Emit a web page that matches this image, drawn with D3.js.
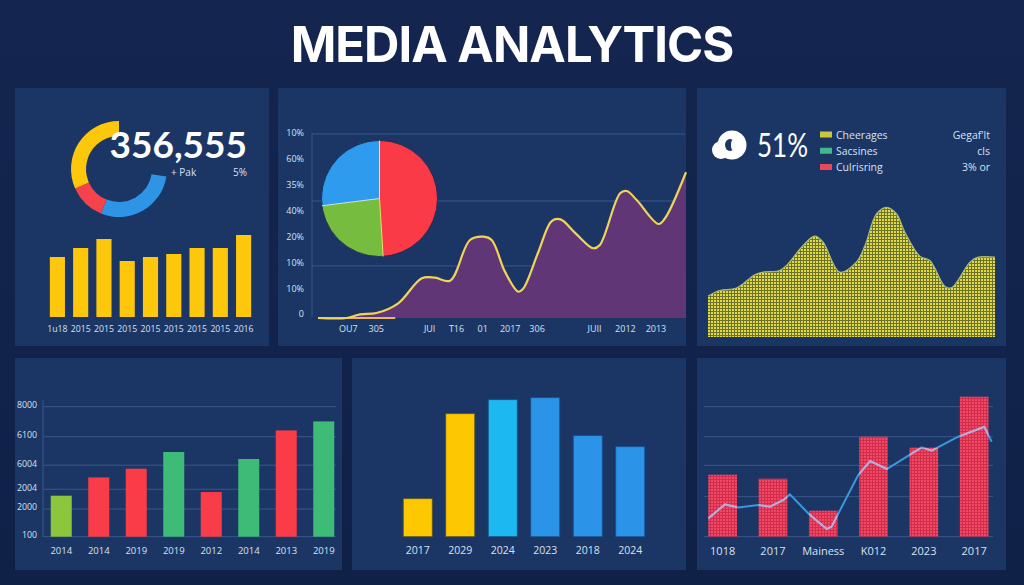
<!DOCTYPE html>
<html>
<head>
<meta charset="utf-8">
<style>
  html, body { margin: 0; padding: 0; background: #12244d; overflow: hidden; }
  text { font-family: "Open Sans", sans-serif; }
  .tick text { font-family: "Open Sans", sans-serif; }
</style>
</head>
<body>
<div id="svg"></div>
<script src="https://cdn.jsdelivr.net/npm/d3@7"></script>
<script>
// top left: donut + yearly bars
const donutValues = [103, 44, 114]
const donutColors = ['#2e95e6', '#f6434b', '#fdc70c']
const yearlyLabels = ['1u18', '2015', '2015 ', '2015  ', '2015   ', '2015    ', '2015     ', '2015      ', '2016']
const yearlyValues = [60, 69, 78, 56, 60, 63, 69, 69, 82]

// top middle: pie + growth area
const pieValues = [49, 24, 27]
const pieColors = ['#fa3b47', '#76bd3f', '#2f9bee']
const pieSeparators = ['#f0dc6a', '#cfe6e0', '#d8dfe8']
const growthT = [0, 7.8, 11.4, 15.9, 21.8, 28.2, 31.8, 35.9, 41.3, 45, 47.2, 50.8, 54.4, 55.8, 59.9, 63.5, 65.9, 70, 74.8, 76.6, 82.1, 83.9, 86.6, 92.5, 94.3, 100]
const growthValues = [0, 0, 2, 2.7, 8, 21.6, 21.9, 20.3, 42.4, 44.2, 42.4, 25.2, 14.3, 16.1, 36, 52.7, 53.6, 46, 37.9, 39.7, 67.8, 69, 64.1, 51.1, 54.2, 79.2]
const growthYLabels = ['10%', '60%', '35%', '40%', '20%', '10%', '10%', '0']
const growthXTicks = [8.1, 15.7, 30.2, 37.5, 44.6, 52.1, 59.4, 75, 83.4, 91.7]
const growthXLabels = ['OU7', '305', 'JUI', 'T16', '01', '2017', '306', 'JUII', '2012', '2013']
const growthGrid = [100, 63.6, 28.3]

// top right: share + ridge area
const legendLabels = ['Cheerages', 'Sacsines', 'Culrisring']
const legendColors = ['#c9c63c', '#45b58c', '#e9475a']
const legendNotes = ["Gegaf'lt", 'cls', '3% or']
const ridgeT = [0, 4.1, 9.9, 16.3, 19.2, 25, 27.9, 32.6, 37.2, 40.1, 45.9, 51.7, 54.7, 58.7, 62.2, 65.7, 68.6, 73.8, 77.3, 82.6, 84.9, 91.3, 94.2, 100]
const ridgeValues = [30.8, 35, 36.8, 46.8, 48.8, 50, 55, 67.5, 75.8, 71.3, 48.8, 56.3, 68.8, 92.5, 97.5, 92.5, 78.8, 60.8, 57.5, 38, 37, 56.3, 60, 60]

// bottom left: coloured bars
const revenueLabels = ['2014', '2014 ', '2019', '2019 ', '2012', '2014  ', '2013', '2019  ']
const revenueValues = [2523, 3650, 4185, 5212, 2750, 4781, 6542, 7095]
const revenueColors = ['#8cc63c', '#f93c47', '#f93c47', '#3dbb77', '#f93c47', '#3dbb77', '#f93c47', '#3dbb77']
const revenueTicks = [8000, 6150, 4400, 2920, 1700, 0]
const revenueTickLabels = ['8000', '6100', '6004', '2004', '2000', '100']

// bottom middle: yellow and blue bars
const audienceLabels = ['2017', '2029', '2024', '2023', '2018', '2024 ']
const audienceValues = [38, 123, 137, 139, 101, 90]
const audienceColors = ['#fdc800', '#fdc800', '#1cb8f2', '#2b94e8', '#2b94e8', '#2b94e8']
const audienceEdges = ['#5c5526', '#5c5526', '#17507f', '#17508f', '#17508f', '#17508f']

// bottom right: dotted bars + line
const salesLabels = ['1018', '2017', 'Mainess', 'K012', '2023', '2017 ']
const salesValues = [62, 58, 26, 100, 89, 140]
const salesGrid = [130, 100, 71.4, 40, 0]
const trendT = [0, 5.9, 10.6, 17.6, 21.8, 26.5, 28.8, 35.3, 41.8, 43.5, 52.9, 57.1, 63, 75.3, 78.8, 88.2, 97.4, 100]
const trendValues = [18.3, 32.3, 29.3, 31.7, 30, 36.7, 42.3, 23.3, 7.7, 10, 61.7, 75.7, 67.7, 89.3, 86, 100, 110, 95]

const width = 1024
const height = 585
const labelColor = '#d7e1f0'
const gridColor = '#37588c'
const panelColor = '#1b3664'

const svg = d3.select('#svg')
  .append('svg')
  .attr('width', width)
  .attr('height', height)
  .style('display', 'block')

const defs = svg.append('defs')

const bgGradient = defs.append('linearGradient')
  .attr('id', 'bg')
  .attr('x1', 0).attr('x2', 0).attr('y1', 0).attr('y2', 1)
bgGradient.append('stop').attr('offset', 0).attr('stop-color', '#14264f')
bgGradient.append('stop').attr('offset', 1).attr('stop-color', '#0f2147')

const dotPattern = (id, back, dot) => {
  const p = defs.append('pattern')
    .attr('id', id)
    .attr('patternUnits', 'userSpaceOnUse')
    .attr('width', 3)
    .attr('height', 3)
  p.append('rect').attr('width', 3).attr('height', 3).attr('fill', back)
  p.append('rect').attr('width', 2).attr('height', 2).attr('fill', dot)
}
dotPattern('yellowDots', '#6d712e', '#e2dc3e')
dotPattern('redDots', '#d42d4c', '#ee4a66')

svg.append('rect')
  .attr('width', width)
  .attr('height', height)
  .attr('fill', 'url(#bg)')

svg.append('text')
  .attr('x', 512)
  .attr('y', 62)
  .attr('text-anchor', 'middle')
  .attr('fill', '#fff')
  .style('font-family', 'Inter')
  .style('font-weight', 700)
  .style('font-size', '49px')
  .style('letter-spacing', '-1px')
  .text('MEDIA ANALYTICS')

const panels = [[15, 88, 254, 258], [278, 88, 408, 258], [697, 88, 309, 258], [15, 358, 327, 212], [352, 358, 334, 212], [697, 358, 309, 212]]
svg.selectAll('.panel')
  .data(panels)
  .enter()
    .append('rect')
    .attr('class', 'panel')
    .attr('x', d => d[0])
    .attr('y', d => d[1])
    .attr('width', d => d[2])
    .attr('height', d => d[3])
    .attr('fill', panelColor)

const label = (x, y, str, size, anchor) => svg.append('text')
  .attr('x', x)
  .attr('y', y)
  .attr('fill', labelColor)
  .attr('text-anchor', anchor || 'start')
  .style('font-size', size + 'px')
  .text(str)

// bottom axis with category labels only, no line and no ticks
const bottomAxis = (scale, y, size, fmt) => {
  const axis = d3.axisBottom(scale).tickSize(0).tickPadding(0)
  if (fmt) axis.tickFormat(fmt)
  const g = svg.append('g')
    .attr('transform', 'translate(0,' + y + ')')
    .call(axis)
  g.select('.domain').remove()
  g.selectAll('text')
    .attr('fill', labelColor)
    .style('font-size', size + 'px')
  return g
}

const gridLines = (values, y, x1, x2) => svg.append('g')
  .selectAll('line')
  .data(values)
  .enter()
    .append('line')
    .attr('x1', x1)
    .attr('x2', x2)
    .attr('y1', d => y(d))
    .attr('y2', d => y(d))
    .attr('stroke', gridColor)

// donut
const donutArc = d3.arc().innerRadius(33).outerRadius(48)
const donutPie = d3.pie().sort(null).startAngle(99 * Math.PI / 180).endAngle(2 * Math.PI)
svg.append('g')
  .attr('transform', 'translate(119,169)')
  .selectAll('path')
  .data(donutPie(donutValues))
  .enter()
    .append('path')
    .attr('d', donutArc)
    .attr('fill', (d, i) => donutColors[i])

label(247, 158, '356,555', 37, 'end')
  .attr('fill', '#fff')
  .style('font-family', 'Lato')
  .style('font-weight', 700)
label(171, 176, '+ Pak', 10)
label(247, 176, '5%', 10, 'end')

// yearly bars
const yearlyX = d3.scaleBand().domain(yearlyLabels).range([47.5, 253.5]).paddingInner(.35).paddingOuter(.1)
const yearlyY = d3.scaleLinear().domain([0, 100]).range([317, 217])
svg.append('g')
  .selectAll('rect')
  .data(yearlyValues)
  .enter()
    .append('rect')
    .attr('x', (d, i) => yearlyX(yearlyLabels[i]))
    .attr('y', d => yearlyY(d))
    .attr('width', yearlyX.bandwidth())
    .attr('height', d => yearlyY(0) - yearlyY(d))
    .attr('fill', '#fdc70c')
bottomAxis(yearlyX, 325.5, 8.7, d => d.trim())

// growth chart
const growthX = d3.scaleLinear().domain([0, 100]).range([318, 686])
const growthY = d3.scaleLinear().domain([0, 100]).range([318, 134])
const growthPoints = growthT.map((t, i) => [t, growthValues[i]])

gridLines(growthGrid, growthY, 312, 685)

svg.append('line')
  .attr('x1', 312).attr('x2', 312)
  .attr('y1', 133).attr('y2', 317)
  .attr('stroke', gridColor)

const growthArea = d3.area()
  .x(d => growthX(d[0]))
  .y0(growthY(0))
  .y1(d => growthY(d[1]))
  .curve(d3.curveCatmullRom.alpha(.5))
svg.append('path')
  .attr('d', growthArea(growthPoints))
  .attr('fill', '#613677')

svg.append('line')
  .attr('x1', growthX(0)).attr('x2', growthX(21))
  .attr('y1', growthY(0)).attr('y2', growthY(0))
  .attr('stroke', '#e8b860')
  .attr('stroke-width', 2)

const growthLine = d3.line()
  .x(d => growthX(d[0]))
  .y(d => growthY(d[1]))
  .curve(d3.curveCatmullRom.alpha(.5))
svg.append('path')
  .attr('d', growthLine(growthPoints))
  .attr('fill', 'none')
  .attr('stroke', '#f0d35a')
  .attr('stroke-width', 2.2)

const growthYAxis = d3.scalePoint().domain(d3.range(growthYLabels.length)).range([133, 314])
const growthYGroup = svg.append('g')
  .attr('transform', 'translate(304,0)')
  .call(d3.axisLeft(growthYAxis).tickSize(0).tickPadding(0).tickFormat(i => growthYLabels[i]))
growthYGroup.select('.domain').remove()
growthYGroup.selectAll('text').attr('fill', labelColor).style('font-size', '9px')

const growthXAxis = d3.axisBottom(growthX)
  .tickValues(growthXTicks)
  .tickSize(0)
  .tickPadding(0)
  .tickFormat((d, i) => growthXLabels[i])
const growthXGroup = svg.append('g')
  .attr('transform', 'translate(0,326)')
  .call(growthXAxis)
growthXGroup.select('.domain').remove()
growthXGroup.selectAll('text').attr('fill', labelColor).style('font-size', '9px')

// pie
const pieR = 58
const pieArc = d3.arc().innerRadius(0).outerRadius(pieR)
const pieSlices = d3.pie().sort(null)(pieValues)
const pieG = svg.append('g').attr('transform', 'translate(379.5,198.5)')
pieG.selectAll('path')
  .data(pieSlices)
  .enter()
    .append('path')
    .attr('d', pieArc)
    .attr('fill', (d, i) => pieColors[i])
pieG.append('circle')
  .attr('r', pieR)
  .attr('fill', 'none')
  .attr('stroke', '#14264f')
  .attr('stroke-width', .8)
pieG.selectAll('line')
  .data(pieSlices)
  .enter()
    .append('line')
    .attr('x2', d => pieR * Math.sin(d.endAngle))
    .attr('y2', d => -pieR * Math.cos(d.endAngle))
    .attr('stroke', (d, i) => pieSeparators[i])
    .attr('stroke-width', 1)

// share + legend
const icon = svg.append('g').attr('fill', '#fff')
icon.append('circle').attr('cx', 732).attr('cy', 145).attr('r', 14.5)
icon.append('circle').attr('cx', 721).attr('cy', 150).attr('r', 9)
icon.append('ellipse').attr('cx', 730).attr('cy', 145).attr('rx', 5).attr('ry', 6).attr('fill', panelColor)
icon.append('ellipse').attr('cx', 733).attr('cy', 145).attr('rx', 2).attr('ry', 5)

label(757, 157, '51%', 33)
  .attr('fill', '#fff')
  .attr('textLength', 51)
  .attr('lengthAdjust', 'spacingAndGlyphs')
  .style('font-family', 'Lato')

const legendY = d3.scalePoint().domain(legendLabels).range([134.5, 167])
svg.append('g')
  .selectAll('rect')
  .data(legendLabels)
  .enter()
    .append('rect')
    .attr('x', 820)
    .attr('y', d => legendY(d) - 3)
    .attr('width', 12)
    .attr('height', 6)
    .attr('fill', (d, i) => legendColors[i])
legendLabels.forEach((d, i) => {
  label(836, legendY(d) + 4, d, 10.5)
  label(990, legendY(d) + 4, legendNotes[i], 10.5, 'end')
})

// ridge
const ridgeX = d3.scaleLinear().domain([0, 100]).range([708, 995])
const ridgeY = d3.scaleLinear().domain([0, 100]).range([337, 204])
const ridgeArea = d3.area()
  .x((d, i) => ridgeX(ridgeT[i]))
  .y0(ridgeY(0))
  .y1(d => ridgeY(d))
  .curve(d3.curveCatmullRom.alpha(.5))
svg.append('path')
  .attr('d', ridgeArea(ridgeValues))
  .attr('fill', 'url(#yellowDots)')
const ridgeLine = d3.line()
  .x((d, i) => ridgeX(ridgeT[i]))
  .y(d => ridgeY(d))
  .curve(d3.curveCatmullRom.alpha(.5))
svg.append('path')
  .attr('d', ridgeLine(ridgeValues))
  .attr('fill', 'none')
  .attr('stroke', '#a9bd7a')
  .attr('stroke-width', 1.2)

// revenue bars
const revenueX = d3.scaleBand().domain(revenueLabels).range([42.5, 342.5]).paddingInner(.44).paddingOuter(.22)
const revenueY = d3.scaleLinear().domain([0, 8000]).range([536.7, 406.7])
gridLines(revenueTicks, revenueY, 43, 336)
svg.append('line')
  .attr('x1', 43).attr('x2', 43)
  .attr('y1', 400).attr('y2', 537)
  .attr('stroke', gridColor)
svg.append('g')
  .selectAll('rect')
  .data(revenueValues)
  .enter()
    .append('rect')
    .attr('x', (d, i) => revenueX(revenueLabels[i]))
    .attr('y', d => revenueY(d))
    .attr('width', revenueX.bandwidth())
    .attr('height', d => revenueY(0) - revenueY(d))
    .attr('fill', (d, i) => revenueColors[i])
bottomAxis(revenueX, 547.5, 9.5, d => d.trim())
const revenueYGroup = svg.append('g')
  .attr('transform', 'translate(37,-2)')
  .call(d3.axisLeft(revenueY).tickValues(revenueTicks).tickSize(0).tickPadding(0).tickFormat((d, i) => revenueTickLabels[i]))
revenueYGroup.select('.domain').remove()
revenueYGroup.selectAll('text').attr('fill', labelColor).style('font-size', '8.8px')

// audience bars
const audienceX = d3.scaleBand().domain(audienceLabels).range([396.5, 651.5]).paddingInner(.318).paddingOuter(.159)
const audienceY = d3.scaleLinear().domain([0, 150]).range([536.7, 386.7])
svg.append('g')
  .selectAll('rect')
  .data(audienceValues)
  .enter()
    .append('rect')
    .attr('x', (d, i) => audienceX(audienceLabels[i]))
    .attr('y', d => audienceY(d))
    .attr('width', audienceX.bandwidth())
    .attr('height', d => audienceY(0) - audienceY(d))
    .attr('fill', (d, i) => audienceColors[i])
    .attr('stroke', (d, i) => audienceEdges[i])
    .attr('stroke-width', .8)
bottomAxis(audienceX, 547, 10.5, d => d.trim())

// sales bars + trend
const salesX = d3.scaleBand().domain(salesLabels).range([697.5, 999.3]).paddingInner(.43).paddingOuter(.215)
const salesY = d3.scaleLinear().domain([0, 150]).range([536.7, 386.7])
const trendX = d3.scaleLinear().domain([0, 100]).range([708.3, 991.7])
gridLines(salesGrid, salesY, 704, 993)

const salesBar = sel => sel
  .attr('x', (d, i) => salesX(salesLabels[i]))
  .attr('y', d => salesY(d))
  .attr('width', salesX.bandwidth())
  .attr('height', d => salesY(0) - salesY(d))

svg.append('g')
  .selectAll('rect')
  .data(salesValues)
  .enter()
    .append('rect')
    .call(salesBar)
    .attr('fill', 'url(#redDots)')

const trendLine = d3.line()
  .x((d, i) => trendX(trendT[i]))
  .y(d => salesY(d))
svg.append('path')
  .attr('d', trendLine(trendValues))
  .attr('fill', 'none')
  .attr('stroke', '#3d97dc')
  .attr('stroke-width', 2)

// the line looks paler where it crosses the bars
defs.append('clipPath')
  .attr('id', 'salesClip')
  .selectAll('rect')
  .data(salesValues)
  .enter()
    .append('rect')
    .call(salesBar)
svg.append('path')
  .attr('d', trendLine(trendValues))
  .attr('clip-path', 'url(#salesClip)')
  .attr('fill', 'none')
  .attr('stroke', '#c9a6cf')
  .attr('stroke-width', 2)

bottomAxis(salesX, 547, 11, d => d.trim())
</script>
</body>
</html>
